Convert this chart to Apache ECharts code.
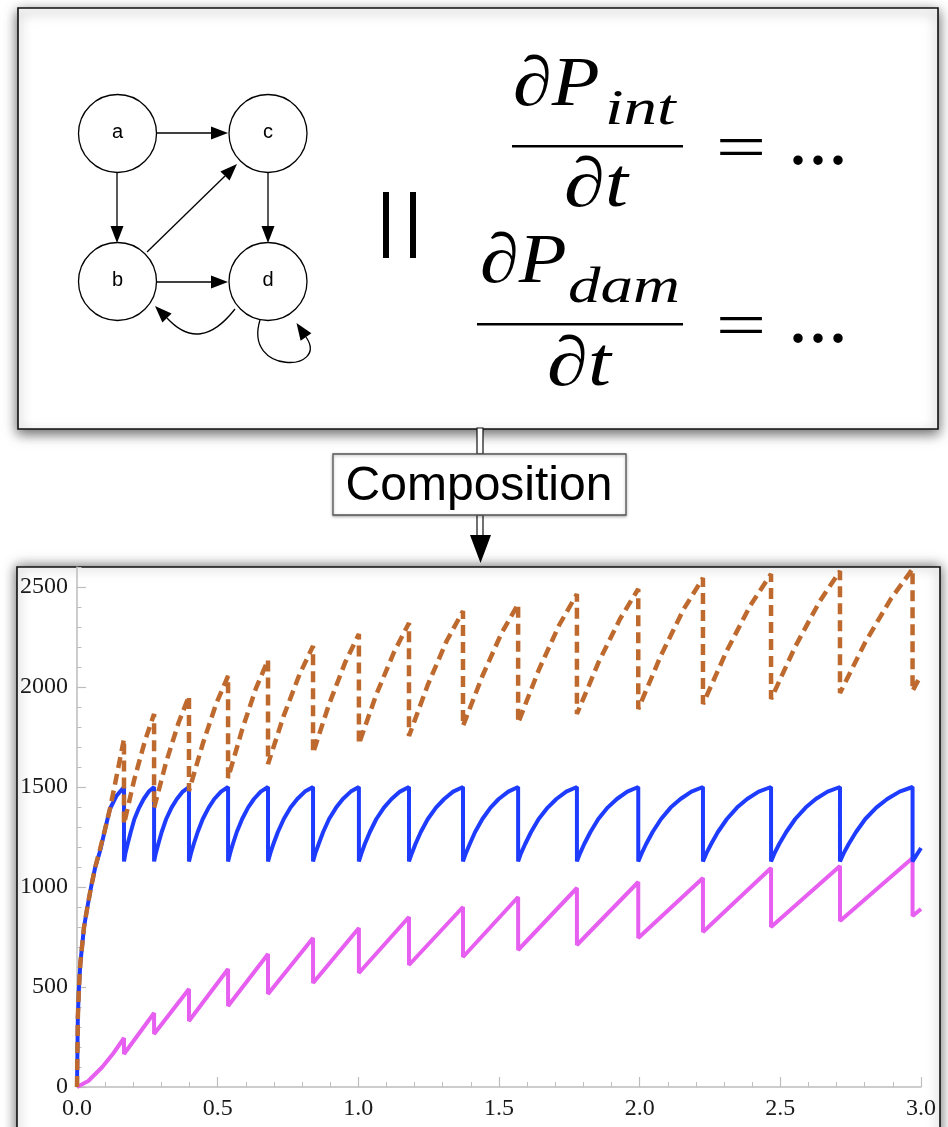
<!DOCTYPE html>
<html>
<head>
<meta charset="utf-8">
<script src="https://cdn.jsdelivr.net/npm/echarts@6/dist/echarts.min.js"></script>
<style>html,body{margin:0;padding:0;background:#fff;}#c{width:948px;height:1127px;}</style>
</head>
<body>
<div id="c"></div>
<script>
// ---- data ----
const xTicks = [0, 0.5, 1.0, 1.5, 2.0, 2.5, 3.0];
const yTickLabels = [0, 500, 1000, 1500, 2000, 2500];

// blue solid (sawtooth between ~1130 and 1500)
const blueSeries = [
[0,0],[0.003,350],[0.007,500],[0.012,620],[0.017,690],[0.025,800],[0.037,900],[0.05,1000],[0.065,1100],[0.082,1180],[0.1,1290],[0.117,1390],[0.14,1455],[0.167,1500],
[0.167,1128],[0.172,1168],[0.180,1215],[0.191,1275],[0.204,1340],[0.221,1397],[0.237,1440],[0.255,1477],[0.274,1500],
[0.274,1128],[0.280,1168],[0.289,1215],[0.301,1275],[0.317,1340],[0.336,1397],[0.355,1440],[0.376,1477],[0.398,1500],
[0.398,1128],[0.405,1168],[0.415,1215],[0.429,1275],[0.447,1340],[0.468,1397],[0.488,1440],[0.512,1477],[0.537,1500],
[0.537,1128],[0.544,1168],[0.554,1215],[0.568,1275],[0.587,1340],[0.608,1397],[0.629,1440],[0.653,1477],[0.679,1500],
[0.679,1128],[0.687,1168],[0.698,1215],[0.714,1275],[0.735,1340],[0.759,1397],[0.783,1440],[0.810,1477],[0.839,1500],
[0.839,1128],[0.847,1168],[0.859,1215],[0.875,1275],[0.896,1340],[0.921,1397],[0.945,1440],[0.973,1477],[1.002,1500],
[1.002,1128],[1.011,1168],[1.023,1215],[1.041,1275],[1.064,1340],[1.091,1397],[1.118,1440],[1.148,1477],[1.18,1500],
[1.18,1128],[1.19,1168],[1.203,1215],[1.222,1275],[1.247,1340],[1.276,1397],[1.305,1440],[1.337,1477],[1.372,1500],
[1.372,1128],[1.382,1168],[1.396,1215],[1.415,1275],[1.441,1340],[1.47,1397],[1.499,1440],[1.533,1477],[1.568,1500],
[1.568,1128],[1.578,1168],[1.593,1215],[1.614,1275],[1.641,1340],[1.673,1397],[1.704,1440],[1.739,1477],[1.777,1500],
[1.777,1128],[1.788,1168],[1.803,1215],[1.825,1275],[1.853,1340],[1.886,1397],[1.919,1440],[1.956,1477],[1.995,1500],
[1.995,1128],[2.007,1168],[2.023,1215],[2.046,1275],[2.076,1340],[2.11,1397],[2.145,1440],[2.184,1477],[2.225,1500],
[2.225,1128],[2.237,1168],[2.254,1215],[2.278,1275],[2.31,1340],[2.346,1397],[2.382,1440],[2.423,1477],[2.467,1500],
[2.467,1128],[2.479,1168],[2.496,1215],[2.521,1275],[2.553,1340],[2.59,1397],[2.626,1440],[2.668,1477],[2.712,1500],
[2.712,1128],[2.725,1168],[2.743,1215],[2.769,1275],[2.802,1340],[2.841,1397],[2.88,1440],[2.924,1477],[2.97,1500],
[2.97,1128],[3.0,1195]
];

// orange dashed (growing sawtooth)
const orangeSeries = [
[0,0],[0.003,350],[0.007,500],[0.012,620],[0.017,690],[0.025,800],[0.037,900],[0.05,1000],[0.065,1100],[0.082,1190],[0.1,1290],[0.117,1390],[0.133,1500],[0.15,1620],[0.167,1740],
[0.167,1315],[0.204,1540],[0.242,1733],[0.274,1865],
[0.274,1395],[0.317,1625],[0.361,1821],[0.398,1955],
[0.398,1480],[0.447,1716],[0.495,1917],[0.537,2055],
[0.537,1545],[0.587,1787],[0.636,1993],[0.679,2135],
[0.679,1615],[0.735,1857],[0.791,2063],[0.839,2205],
[0.839,1670],[0.896,1914],[0.953,2122],[1.002,2265],
[1.002,1715],[1.064,1963],[1.127,2175],[1.18,2320],
[1.18,1755],[1.247,2011],[1.314,2230],[1.372,2380],
[1.372,1805],[1.441,2055],[1.509,2269],[1.568,2415],
[1.568,1820],[1.641,2084],[1.714,2310],[1.777,2465],
[1.777,1865],[1.853,2121],[1.93,2340],[1.995,2490],
[1.995,1890],[2.076,2159],[2.156,2388],[2.225,2545],
[2.225,1915],[2.31,2182],[2.394,2409],[2.467,2565],
[2.467,1940],[2.553,2202],[2.639,2426],[2.712,2580],
[2.712,1970],[2.802,2224],[2.893,2441],[2.97,2590],
[2.97,1980],[3.0,2060]
];

// magenta solid (linear sawtooth)
const magentaSeries = [
[0,0],[0.04,30],[0.09,100],[0.13,170],[0.167,245],
[0.167,165],[0.274,370],
[0.274,265],[0.398,490],
[0.398,330],[0.537,590],
[0.537,405],[0.679,665],
[0.679,465],[0.839,745],
[0.839,520],[1.002,795],
[1.002,570],[1.18,850],
[1.18,610],[1.372,900],
[1.372,650],[1.568,950],
[1.568,685],[1.777,995],
[1.777,710],[1.995,1025],
[1.995,745],[2.225,1045],
[2.225,775],[2.467,1095],
[2.467,800],[2.712,1105],
[2.712,830],[2.97,1145],
[2.97,855],[3.0,890]
];

// ---- decoration helpers ----
function arrowHead(bx, by, tx, ty, half) {
  const dx = tx - bx, dy = ty - by, L = Math.hypot(dx, dy);
  const px = -dy / L * half, py = dx / L * half;
  return {type:'polygon', shape:{points:[[tx,ty],[bx+px,by+py],[bx-px,by-py]]}, style:{fill:'#000'}, z:5};
}
function seg(x1,y1,x2,y2){
  return {type:'line', shape:{x1,y1,x2,y2}, style:{stroke:'#000', lineWidth:1.3}, z:5};
}
function node(cx, cy, label){
  return [
    {type:'circle', shape:{cx, cy, r:39}, style:{fill:'#fff', stroke:'#000', lineWidth:1.3}, z:5},
    {type:'text', x:cx, y:cy-1.5, style:{text:label, font:'20px "Liberation Sans"', fill:'#000', textAlign:'center', textVerticalAlign:'middle'}, z:6}
  ];
}
function txt(text, x, y, font, align, sx){
  return {type:'text', x, y, scaleX:sx||1, style:{text, font, fill:'#000', textAlign:align||'left', textVerticalAlign:'middle'}, z:6};
}

const AH = 6.5;
const graphics = [
  // boxes
  {type:'rect', shape:{x:18,y:8,width:920,height:421}, style:{fill:'#fff', stroke:'#111', lineWidth:1.6, shadowBlur:12, shadowColor:'rgba(0,0,0,0.6)', shadowOffsetY:4}, z:-2},
  {type:'rect', shape:{x:17,y:567,width:923,height:600}, style:{fill:'#fff', stroke:'#111', lineWidth:1.6, shadowBlur:12, shadowColor:'rgba(0,0,0,0.6)', shadowOffsetY:0}, z:-2},
  // connectors
  {type:'rect', shape:{x:477,y:428,width:6,height:26}, style:{fill:'#fff', stroke:'#111', lineWidth:1.2}, z:5},
  {type:'rect', shape:{x:477,y:515,width:6,height:21}, style:{fill:'#fff', stroke:'#111', lineWidth:1.2}, z:5},
  {type:'polygon', shape:{points:[[470,535],[491,535],[480.5,563]]}, style:{fill:'#000'}, z:5},
  {type:'rect', shape:{x:333,y:454,width:293,height:61}, style:{fill:'#fff', stroke:'#555', lineWidth:1.3, shadowBlur:3, shadowColor:'rgba(0,0,0,0.3)', shadowOffsetY:1}, z:5},
  txt('Composition', 479, 486.4, '48px "Liberation Sans"', 'center'),
  // graph edges
  seg(157,133,211,133), arrowHead(211,133,228,133,AH),
  seg(117,172,117,226), arrowHead(117,226,117,243,AH),
  seg(268,172,268,226), arrowHead(268,226,268,243,AH),
  seg(157,282,211,282), arrowHead(211,282,228,282,AH),
  seg(147,252,225,176), arrowHead(225,176,237,164,AH),
  {type:'bezierCurve', shape:{x1:235,y1:309,cpx1:200,cpy1:354,x2:167,y2:318}, style:{stroke:'#000', lineWidth:1.3, fill:null}, z:5},
  arrowHead(167,318,155,306,AH),
  {type:'bezierCurve', shape:{x1:260,y1:320,cpx1:243,cpy1:375,cpx2:330,cpy2:372,x2:306,y2:337}, style:{stroke:'#000', lineWidth:1.3, fill:null}, z:5},
  arrowHead(306,337,296.5,323,AH),
  ...node(117.5,133.5,'a'), ...node(268,133.5,'c'), ...node(117.5,281.5,'b'), ...node(268,281.5,'d'),
  // parallel symbol
  {type:'rect', shape:{x:383,y:192,width:6,height:66}, style:{fill:'#000'}, z:5},
  {type:'rect', shape:{x:410,y:192,width:6,height:66}, style:{fill:'#000'}, z:5},
  // equation 1
  txt('∂P', 513, 86.4, 'italic 70px "Liberation Serif"', 'left', 1.12),
  txt('int', 605, 111, 'italic 50px "Liberation Serif"', 'left', 1.34),
  {type:'rect', shape:{x:512,y:145,width:171,height:2.5}, style:{fill:'#000'}, z:5},
  txt('∂t', 596, 187.4, 'italic 70px "Liberation Serif"', 'center', 1.18),
  txt('=', 741, 151.5, '64px "Liberation Serif"', 'center', 1.4),
  txt('...', 818, 143, '80px "Liberation Serif"', 'center'),
  // equation 2
  txt('∂P', 480, 263.4, 'italic 70px "Liberation Serif"', 'left', 1.12),
  txt('dam', 568, 289, 'italic 50px "Liberation Serif"', 'left', 1.3),
  {type:'rect', shape:{x:477,y:323,width:206,height:2.5}, style:{fill:'#000'}, z:5},
  txt('∂t', 579, 366.4, 'italic 70px "Liberation Serif"', 'center', 1.18),
  txt('=', 741, 329.5, '64px "Liberation Serif"', 'center', 1.4),
  txt('...', 818, 321, '80px "Liberation Serif"', 'center')
];

const axisGray = '#bdbdbd';
const labelFont = {fontFamily:'Liberation Serif', fontSize:24, color:'#1a1a1a'};

const option = {
  animation: false,
  backgroundColor: '#fff',
  grid: {left:77, right:27, top:567, bottom:40, containLabel:false},
  xAxis: {
    type:'value', min:0, max:3, interval:0.5,
    axisLine:{show:true, lineStyle:{color:axisGray, width:1.5}},
    axisTick:{show:true, inside:true, length:10, lineStyle:{color:axisGray, width:1.2}},
    minorTick:{show:true, splitNumber:5, length:5, lineStyle:{color:axisGray, width:1}},
    splitLine:{show:false},
    axisLabel:Object.assign({margin:10, formatter:v => v.toFixed(1), showMinLabel:true, showMaxLabel:true}, labelFont)
  },
  yAxis: [
    {
      type:'value', min:0, max:2600, interval:500, position:'left',
      axisLine:{show:true, onZero:false, lineStyle:{color:axisGray, width:1.5}},
      axisTick:{show:true, inside:true, length:9, customValues:yTickLabels, lineStyle:{color:axisGray, width:1.2}},
      splitLine:{show:false},
      axisLabel:Object.assign({margin:9, customValues:yTickLabels, formatter:v => (v > 2500 ? '' : String(v))}, labelFont)
    },
    {
      type:'value', min:0, max:2600, interval:100, position:'left',
      axisLine:{show:false},
      axisTick:{show:true, inside:true, length:4.5, lineStyle:{color:axisGray, width:1}},
      splitLine:{show:false},
      axisLabel:{show:false}
    }
  ],
  graphic: graphics,
  series: [
    {type:'line', name:'magenta', data:magentaSeries, showSymbol:false, symbol:'none', clip:true,
     lineStyle:{color:'#e65ff0', width:4}, z:3},
    {type:'line', name:'blue', data:blueSeries, showSymbol:false, symbol:'none', clip:true,
     lineStyle:{color:'#1e3cff', width:4}, z:4},
    {type:'line', name:'orange', data:orangeSeries, showSymbol:false, symbol:'none', clip:true,
     lineStyle:{color:'#be692d', width:4.5, type:[11,6]}, z:5}
  ]
};

const chart = echarts.init(document.getElementById('c'), null, {renderer:'canvas'});
chart.setOption(option);
</script>
</body>
</html>
